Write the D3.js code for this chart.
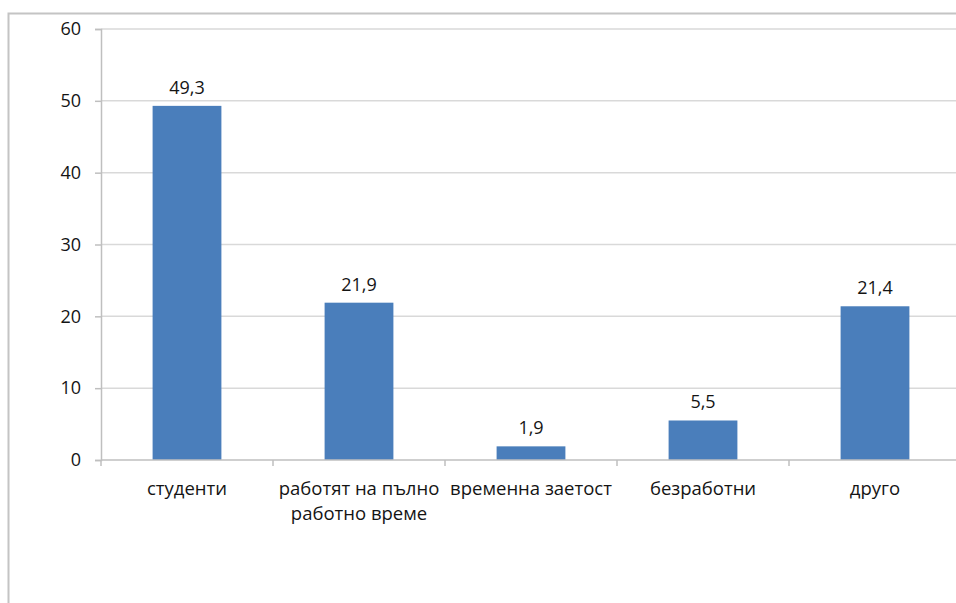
<!DOCTYPE html>
<html><head><meta charset="utf-8">
<script src="https://cdn.jsdelivr.net/npm/d3@7"></script>
<style>body{margin:0;background:#fff}svg{display:block}</style>
</head><body>
<svg id="c" width="956" height="603"></svg>
<script>
const categories = ["студенти", "работят на пълно\nработно време", "временна заетост", "безработни", "друго"];
const values = [49.3, 21.9, 1.9, 5.5, 21.4];
const valueLabels = ["49,3", "21,9", "1,9", "5,5", "21,4"];
const yTicks = [0, 10, 20, 30, 40, 50, 60];

const svg = d3.select("#c");
const font = "'Open Sans', 'Noto Sans', sans-serif";
const txt = "#141414";

// chart border
svg.append("path").attr("d", "M8.5,603 V13.5 H956").attr("fill", "none")
  .attr("stroke", "#c4c4c4").attr("stroke-width", 2);

const x = d3.scaleBand().domain(categories).range([101, 961]).paddingInner(0.6).paddingOuter(0.3);
const y = d3.scaleLinear().domain([0, 60]).range([460, 29]);

// gridlines
svg.append("g").selectAll("line").data(yTicks.filter(d => d > 0)).join("line")
  .attr("x1", 101).attr("x2", 961).attr("y1", d => y(d)).attr("y2", d => y(d))
  .attr("stroke", "#d9d9d9").attr("stroke-width", 1.5);

// y axis
const ya = svg.append("g").attr("transform", "translate(101,0)")
  .call(d3.axisLeft(y).tickValues(yTicks).tickSize(6).tickPadding(14).tickFormat(d3.format("d")));
ya.select(".domain").attr("stroke", "#bfbfbf").attr("stroke-width", 1.5);
ya.selectAll(".tick line").attr("stroke", "#bfbfbf").attr("stroke-width", 1.5);
ya.selectAll("text").attr("font-family", font).attr("font-size", 18).attr("fill", txt);

// bars
svg.append("g").selectAll("rect").data(values).join("rect")
  .attr("x", (d, i) => x(categories[i])).attr("width", x.bandwidth())
  .attr("y", d => y(d)).attr("height", d => y(0) - y(d))
  .attr("fill", "#4a7ebb");

// x axis
const step = x.step();
const bounds = categories.map((c, i) => 101 + i * step).concat([961]);
svg.append("line").attr("x1", 101).attr("x2", 961).attr("y1", y(0)).attr("y2", y(0))
  .attr("stroke", "#bfbfbf").attr("stroke-width", 1.5);
svg.append("g").selectAll("line").data(bounds).join("line")
  .attr("x1", d => d).attr("x2", d => d).attr("y1", y(0)).attr("y2", y(0) + 6)
  .attr("stroke", "#bfbfbf").attr("stroke-width", 1.5);

const xl = svg.append("g").selectAll("text").data(categories).join("text")
  .attr("x", d => x(d) + x.bandwidth() / 2).attr("y", 495)
  .attr("text-anchor", "middle").attr("font-family", font).attr("font-size", 18.5).attr("fill", txt);
xl.each(function(d) {
  const t = d3.select(this);
  d.split("\n").forEach((line, k) => {
    t.append("tspan").attr("x", t.attr("x")).attr("dy", k === 0 ? 0 : 25).text(line);
  });
});

// value labels
svg.append("g").selectAll("text").data(values).join("text")
  .attr("x", (d, i) => x(categories[i]) + x.bandwidth() / 2).attr("y", d => y(d) - 12)
  .attr("text-anchor", "middle").attr("font-family", font).attr("font-size", 18).attr("fill", txt)
  .text((d, i) => valueLabels[i]);
</script>
</body></html>
